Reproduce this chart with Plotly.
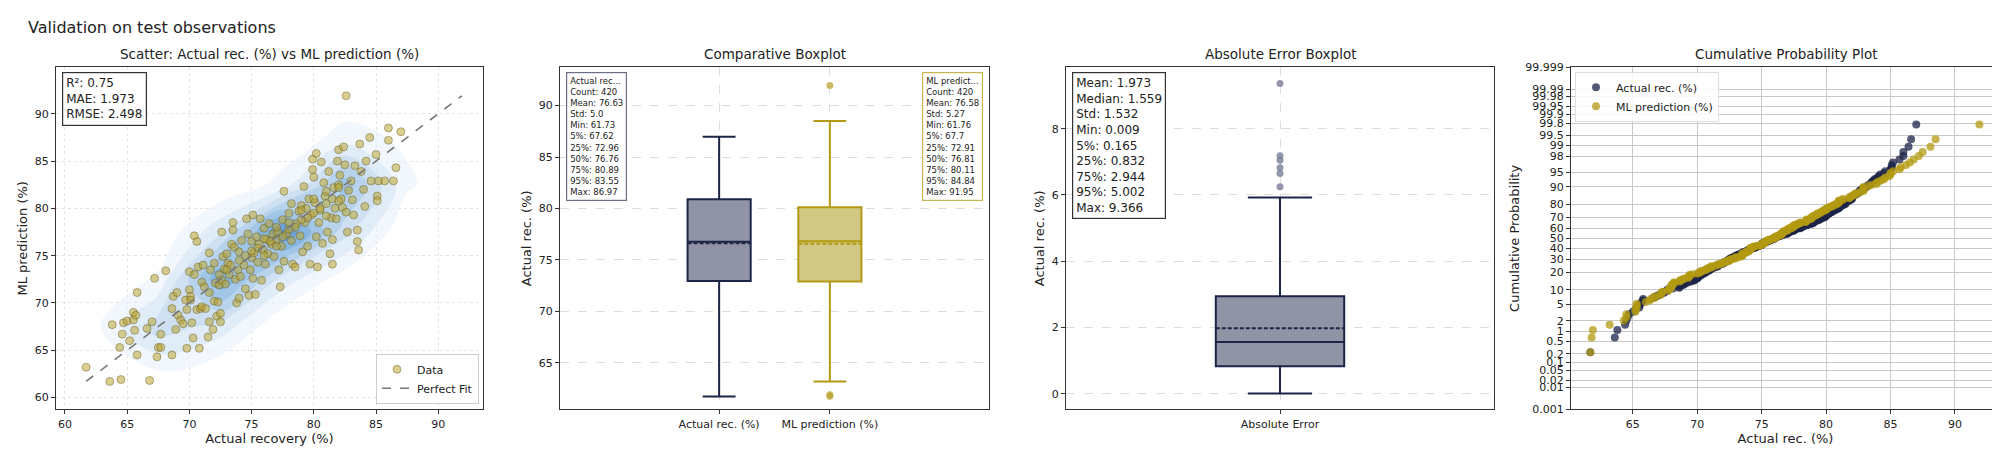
import plotly.graph_objects as go
from statistics import NormalDist

# data
actual = [61.7, 63.6, 64.5, 66.8, 63.8, 64.4, 64.6, 64.7, 65.0, 65.2, 65.5, 65.5, 65.7, 65.6, 65.8, 65.8,
          66.6, 67.0, 67.2, 67.4, 67.5, 67.7, 67.7, 68.1, 68.6, 68.6, 68.7, 68.9, 69.0, 69.1, 69.3, 69.5,
          69.7, 69.8, 69.8, 70.0, 70.0, 70.1, 70.1, 70.2, 70.3, 70.4, 70.4, 70.6, 70.6, 70.7, 70.8, 70.9,
          71.0, 71.0, 71.1, 71.2, 71.3, 71.5, 71.6, 71.6, 71.6, 71.7, 71.9, 72.0, 72.0, 72.1, 72.2, 72.3,
          72.4, 72.4, 72.5, 72.5, 72.6, 72.6, 72.7, 72.8, 72.9, 73.0, 73.1, 73.2, 73.3, 73.4, 73.5, 73.5,
          73.6, 73.7, 73.8, 73.9, 74.0, 74.0, 74.1, 74.2, 74.4, 74.5, 74.6, 74.7, 74.8, 74.9, 75.0, 75.0,
          75.1, 75.1, 75.2, 75.3, 75.4, 75.5, 75.6, 75.7, 75.8, 75.9, 76.0, 76.1, 76.2, 76.3, 76.4, 76.6,
          76.7, 76.8, 77.0, 77.1, 77.2, 77.3, 77.4, 77.5, 77.6, 77.6, 77.8, 78.0, 78.2, 78.2, 78.3, 78.5,
          78.6, 78.8, 78.9, 79.0, 79.1, 79.2, 79.3, 79.4, 79.5, 79.6, 79.7, 79.8, 79.9, 79.9, 80.0, 80.1,
          80.2, 80.2, 80.3, 80.4, 80.5, 80.6, 80.7, 80.8, 80.9, 81.0, 81.1, 81.2, 81.3, 81.4, 81.5, 81.5,
          81.6, 81.7, 81.8, 81.9, 82.0, 82.1, 82.2, 82.3, 82.4, 82.5, 82.6, 82.7, 82.8, 83.0, 83.1, 83.2,
          83.3, 83.5, 83.5, 83.6, 83.7, 83.8, 84.0, 84.1, 84.2, 84.5, 84.6, 85.0, 85.1, 85.1, 85.2, 85.7,
          86.0, 86.0, 86.4, 86.6, 87.0, 82.6, 82.0,
          74.5, 75.5, 76.5, 77.5, 78.5, 79.5, 80.5, 81.5, 76.0, 77.0, 78.0, 79.0, 80.0, 81.0, 82.0,
          73.0, 74.0, 75.0, 76.0, 77.0, 78.0, 79.0, 80.0, 81.0, 82.0]
predicted = [63.2, 61.7, 61.9, 61.8, 67.7, 65.3, 66.7, 67.9, 68.1, 66.0, 68.2, 69.0, 68.7, 67.1, 64.5, 71.1,
             67.3, 68.0, 72.6, 64.3, 65.3, 65.3, 66.7, 73.4, 64.5, 69.4, 70.7, 67.2, 71.1, 68.7, 68.2, 67.8,
             70.3, 69.3, 65.2, 73.3, 71.4, 70.7, 70.3, 67.9, 66.3, 73.0, 77.1, 69.3, 76.5, 73.8, 65.2, 69.4,
             69.6, 72.2, 74.0, 71.7, 69.4, 66.4, 68.0, 75.3, 71.1, 73.5, 67.2, 74.2, 70.2, 72.1, 68.6, 70.1,
             73.0, 71.9, 68.9, 68.0, 72.4, 77.5, 74.9, 73.6, 72.0, 75.2, 74.2, 73.0, 74.0, 76.2, 78.5, 77.7,
             75.9, 72.5, 70.0, 73.5, 75.4, 70.5, 72.8, 76.6, 74.0, 71.5, 78.9, 77.3, 70.8, 73.5, 76.5, 74.8,
             79.3, 72.6, 75.3, 70.9, 77.0, 74.3, 76.2, 78.9, 72.4, 75.6, 77.9, 74.1, 76.7, 75.2, 78.4, 76.2,
             77.3, 74.9, 76.7, 77.5, 73.5, 71.7, 76.0, 78.8, 81.8, 74.4, 77.3, 79.5, 80.5, 76.6, 74.1, 73.8,
             78.4, 79.7, 77.1, 80.3, 75.4, 82.3, 78.5, 80.0, 76.0, 81.0, 74.1, 79.3, 84.1, 85.2, 83.3, 80.6,
             77.0, 85.8, 73.8, 78.5, 79.8, 84.9, 76.3, 82.7, 81.3, 80.5, 77.5, 83.9, 75.2, 79.0, 74.1, 76.7,
             82.2, 80.0, 78.9, 85.0, 86.2, 83.5, 81.0, 80.1, 86.5, 84.6, 79.6, 77.5, 81.9, 82.9, 80.9, 79.3,
             84.5, 77.7, 76.5, 75.6, 86.8, 83.9, 82.0, 80.2, 85.0, 87.5, 82.9, 85.7, 81.3, 80.8, 82.9, 82.9,
             88.5, 87.2, 82.9, 84.3, 88.1, 91.9, 82.5,
             75.0, 75.8, 76.5, 77.0, 78.0, 79.0, 80.0, 81.0, 75.0, 78.0, 77.8, 78.8, 79.5, 79.2, 80.8,
             73.5, 74.5, 75.5, 76.8, 76.0, 78.5, 79.8, 81.0, 81.8, 82.2]

# box statistics (from the reference text boxes)
box_names = ['Actual rec. (%)', 'ML prediction (%)']
box_q1 = [72.96, 72.91]
box_median = [76.76, 76.81]
box_q3 = [80.89, 80.11]
box_mean = [76.63, 76.58]
box_low = [61.73, 63.2]
box_high = [86.97, 88.5]
ml_outliers = [61.76, 61.9, 91.95]

err_q1, err_median, err_q3, err_mean = 0.832, 1.559, 2.944, 1.973
err_low, err_high = 0.009, 5.92
err_outliers = [6.25, 6.65, 6.82, 7.05, 7.18, 9.366]

prob_ticks = [0.001, 0.01, 0.02, 0.05, 0.1, 0.2, 0.5, 1, 2, 5, 10, 20, 30, 40, 50, 60, 70, 80,
              90, 95, 98, 99, 99.5, 99.8, 99.9, 99.95, 99.98, 99.99, 99.999]

stats_actual = ('Actual rec...<br>Count: 420<br>Mean: 76.63<br>Std: 5.0<br>Min: 61.73<br>5%: 67.62<br>'
                '25%: 72.96<br>50%: 76.76<br>75%: 80.89<br>95%: 83.55<br>Max: 86.97')
stats_ml = ('ML predict...<br>Count: 420<br>Mean: 76.58<br>Std: 5.27<br>Min: 61.76<br>5%: 67.7<br>'
            '25%: 72.91<br>50%: 76.81<br>75%: 80.11<br>95%: 84.84<br>Max: 91.95')
stats_err = ('Mean: 1.973<br>Median: 1.559<br>Std: 1.532<br>Min: 0.009<br>5%: 0.165<br>'
             '25%: 0.832<br>75%: 2.944<br>95%: 5.002<br>Max: 9.366')

NAVY = '#1c2448'
NAVY_FILL = '#9094a4'
GOLD = '#b39a12'
GOLD_FILL = '#d1c883'
FONT = 'DejaVu Sans'

fig = go.Figure()

# 1 scatter + density
fig.add_trace(go.Histogram2dContour(
    x=actual, y=predicted, xaxis='x', yaxis='y', showscale=False, ncontours=14,
    colorscale=[[0, 'rgba(255,255,255,0)'], [0.08, 'rgba(238,245,252,0.6)'], [0.4, 'rgba(190,215,238,0.6)'],
                [0.7, 'rgba(130,180,225,0.6)'], [1, 'rgba(70,130,200,0.65)']],
    contours=dict(coloring='fill', showlines=False), line=dict(width=0), hoverinfo='skip'))
fig.add_trace(go.Scatter(
    x=actual, y=predicted, mode='markers', name='Data', xaxis='x', yaxis='y', legend='legend',
    marker=dict(size=8, color='rgba(190,165,50,0.55)', line=dict(color='rgba(90,80,30,0.6)', width=0.7))))
lo, hi = min(actual), max(predicted)
fig.add_trace(go.Scatter(
    x=[lo, hi], y=[lo, hi], mode='lines', name='Perfect Fit', xaxis='x', yaxis='y', legend='legend',
    line=dict(color='#777777', dash='dash', width=1.6)))

# 2 comparative boxplot
for i, (col, fill) in enumerate([(NAVY, NAVY_FILL), (GOLD, GOLD_FILL)]):
    fig.add_trace(go.Box(
        x=[i], q1=[box_q1[i]], median=[box_median[i]], q3=[box_q3[i]], mean=[box_mean[i]],
        lowerfence=[box_low[i]], upperfence=[box_high[i]], boxmean=True, width=0.57, whiskerwidth=0.52,
        fillcolor=fill, line=dict(color=col, width=2), xaxis='x2', yaxis='y2', showlegend=False,
        hoverinfo='skip'))
fig.add_trace(go.Scatter(
    x=[1] * len(ml_outliers), y=ml_outliers, mode='markers', xaxis='x2', yaxis='y2', showlegend=False,
    marker=dict(size=7, color='rgba(190,165,50,0.75)')))

# 3 absolute error boxplot
fig.add_trace(go.Box(
    x=[0], q1=[err_q1], median=[err_median], q3=[err_q3], mean=[err_mean],
    lowerfence=[err_low], upperfence=[err_high], boxmean=True, width=0.6, whiskerwidth=0.5,
    fillcolor=NAVY_FILL, line=dict(color=NAVY, width=2), xaxis='x3', yaxis='y3', showlegend=False,
    hoverinfo='skip'))
fig.add_trace(go.Scatter(
    x=[0] * len(err_outliers), y=err_outliers, mode='markers', xaxis='x3', yaxis='y3', showlegend=False,
    marker=dict(size=7, color='rgba(128,132,155,0.85)')))

# 4 cumulative probability (normal probability axis)
nd = NormalDist()
for vals, name, col in [(actual, 'Actual rec. (%)', 'rgba(28,36,72,0.75)'),
                        (predicted, 'ML prediction (%)', 'rgba(179,154,18,0.75)')]:
    s = sorted(vals)
    n = len(s)
    z = [nd.inv_cdf((k + 0.5) / n) for k in range(n)]
    fig.add_trace(go.Scatter(
        x=s, y=z, mode='markers', name=name, xaxis='x4', yaxis='y4', legend='legend2',
        marker=dict(size=8, color=col)))

ydom = [0.0976, 0.878]
ax = dict(showline=True, mirror=True, linecolor='#333333', linewidth=1.2, ticks='outside',
          ticklen=4, tickcolor='#333333', zeroline=False, tickfont=dict(size=11, color='#222'))
grid_dot = dict(showgrid=True, gridcolor='#e3e3e3', griddash='dot')
grid_dash = dict(showgrid=True, gridcolor='#dddddd', griddash='dash')

fig.update_layout(
    width=2000, height=451, margin=dict(l=0, r=0, t=0, b=0),
    plot_bgcolor='white', paper_bgcolor='white',
    font=dict(family=FONT, size=11, color='#222'),
    title=dict(text='Validation on test observations', x=0.01, y=0.97, xanchor='left', yanchor='top',
               font=dict(size=16)),
    xaxis=dict(domain=[0.024, 0.2375], range=[59.28, 93.6], dtick=5, anchor='y',
               title=dict(text='Actual recovery (%)', standoff=4), **ax, **grid_dot),
    yaxis=dict(domain=ydom, range=[58.76, 94.9], dtick=5, anchor='x',
               title=dict(text='ML prediction (%)', standoff=4), **ax, **grid_dot),
    xaxis2=dict(domain=[0.276, 0.4905], range=[-1.437, 2.437], anchor='y2', tickvals=[0, 1],
                ticktext=box_names, **ax, **grid_dash),
    yaxis2=dict(domain=ydom, range=[60.5, 93.7], dtick=5, anchor='x2',
                title=dict(text='Actual rec. (%)', standoff=4), **ax, **grid_dash),
    xaxis3=dict(domain=[0.529, 0.743], range=[-1, 1], anchor='y3', tickvals=[0],
                ticktext=['Absolute Error'], **ax, **grid_dash),
    yaxis3=dict(domain=ydom, range=[-0.47, 9.85], dtick=2, anchor='x3',
                title=dict(text='Actual rec. (%)', standoff=4), **ax, **grid_dash),
    xaxis4=dict(domain=[0.7815, 0.996], range=[60.2, 93.5], dtick=5, anchor='y4',
                title=dict(text='Actual rec. (%)', standoff=4), showgrid=True, gridcolor='#c8c8c8',
                gridwidth=1.2, **ax),
    yaxis4=dict(domain=ydom, range=[nd.inv_cdf(0.00001), nd.inv_cdf(0.99999)], anchor='x4',
                tickvals=[nd.inv_cdf(p / 100) for p in prob_ticks], ticktext=[str(p) for p in prob_ticks],
                title=dict(text='Cumulative Probability', standoff=2), showgrid=True,
                gridcolor='#c8c8c8', gridwidth=1.2, **ax),
    legend=dict(x=0.2355, y=0.11, xanchor='right', yanchor='bottom', bgcolor='rgba(255,255,255,0.85)',
                bordercolor='#cccccc', borderwidth=1, font=dict(size=11)),
    legend2=dict(x=0.7835, y=0.868, xanchor='left', yanchor='top', bgcolor='rgba(255,255,255,0.85)',
                 bordercolor='#dddddd', borderwidth=1, font=dict(size=11)),
)

titles = [('Scatter: Actual rec. (%) vs ML prediction (%)', 0.13075),
          ('Comparative Boxplot', 0.38325), ('Absolute Error Boxplot', 0.636),
          ('Cumulative Probability Plot', 0.88875)]
for txt, xc in titles:
    fig.add_annotation(text=txt, x=xc, y=0.885, xref='paper', yref='paper', xanchor='center',
                       yanchor='bottom', showarrow=False, font=dict(size=13.5))

box_style = dict(xref='paper', yref='paper', xanchor='left', yanchor='top', showarrow=False,
                 align='left', bgcolor='white', borderwidth=1.2, borderpad=3)
fig.add_annotation(text='R²: 0.75<br>MAE: 1.973<br>RMSE: 2.498', x=0.027, y=0.868,
                   bordercolor='#333', font=dict(size=12), **box_style)
fig.add_annotation(text=stats_actual, x=0.279, y=0.868, bordercolor='#6a6e86',
                   font=dict(size=8.5), **box_style)
fig.add_annotation(text=stats_ml, x=0.4875, y=0.868, bordercolor='#c8b450',
                   font=dict(size=8.5), **{**box_style, 'xanchor': 'right'})
fig.add_annotation(text=stats_err, x=0.532, y=0.868, bordercolor='#333',
                   font=dict(size=12), **box_style)

fig.write_html("out.html")
